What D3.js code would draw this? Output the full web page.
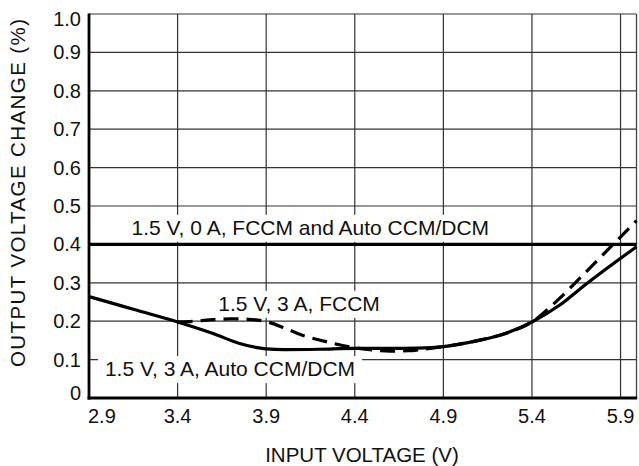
<!DOCTYPE html>
<html>
<head>
<meta charset="utf-8">
<script src="https://cdn.jsdelivr.net/npm/d3@7"></script>
<style>
  html, body { margin: 0; padding: 0; background: #fff; }
  svg { display: block; }
  text { font-family: "Liberation Sans", Arial, Helvetica, sans-serif; fill: #111; }
</style>
</head>
<body>
<svg id="chart" width="639" height="466"></svg>
<script>
// ---- data ----
const xTicks = [2.9, 3.4, 3.9, 4.4, 4.9, 5.4, 5.9];
const yTicks = [0, 0.1, 0.2, 0.3, 0.4, 0.5, 0.6, 0.7, 0.8, 0.9, 1.0];
const yTickLabels = ["0", "0.1", "0.2", "0.3", "0.4", "0.5", "0.6", "0.7", "0.8", "0.9", "1.0"];

const noLoadX = [2.9, 5.99];
const noLoadY = [0.4, 0.4];

const autoX = [2.9, 3.0, 3.15, 3.4, 3.6, 3.75, 3.85, 3.9, 4.0, 4.2, 4.4, 4.6, 4.75, 4.9, 5.1, 5.25, 5.4, 5.557, 5.687, 5.99];
const autoY = [0.264, 0.251, 0.231, 0.198, 0.168, 0.142, 0.131, 0.128, 0.126, 0.127, 0.129, 0.129, 0.130, 0.134, 0.150, 0.168, 0.198, 0.242, 0.290, 0.394];

const fccmX = [3.4, 3.5, 3.6, 3.7, 3.8, 3.9, 4.0, 4.1, 4.2, 4.3, 4.4, 4.5, 4.6, 4.7, 4.8, 4.9, 5.1, 5.25, 5.4, 5.557, 5.687, 5.99];
const fccmY = [0.198, 0.200, 0.204, 0.206, 0.205, 0.199, 0.183, 0.164, 0.151, 0.140, 0.131, 0.125, 0.122, 0.123, 0.128, 0.134, 0.150, 0.168, 0.198, 0.260, 0.320, 0.462];

const labels = [
  { text: "1.5 V, 0 A, FCCM and Auto CCM/DCM", x: 3.14, y: 0.425 },
  { text: "1.5 V, 3 A, FCCM", x: 3.63, y: 0.227 },
  { text: "1.5 V, 3 A, Auto CCM/DCM", x: 2.99, y: 0.057 }
];

// ---- layout ----
const svg = d3.select("#chart");
const L = 89, R = 636.5, T = 14, B = 398;
const x = d3.scaleLinear().domain([2.9, 5.99]).range([L, R]);
const y = d3.scaleLinear().domain([0, 1.0]).range([B, T]);

const grid = svg.append("g");
// horizontal gridlines
grid.selectAll("line.h").data(yTicks.slice(1)).enter().append("line")
  .attr("x1", L).attr("x2", R)
  .attr("y1", d => y(d)).attr("y2", d => y(d))
  .attr("stroke", "#333").attr("stroke-width", 1.2);
// vertical gridlines
grid.selectAll("line.v").data(xTicks.slice(1)).enter().append("line")
  .attr("x1", d => x(d)).attr("x2", d => x(d))
  .attr("y1", T).attr("y2", B)
  .attr("stroke", "#333").attr("stroke-width", 1.2);
// right border
grid.append("line").attr("x1", R).attr("x2", R).attr("y1", T).attr("y2", B)
  .attr("stroke", "#444").attr("stroke-width", 1.3);

// labels with white background
const lab = svg.append("g");
labels.forEach(l => {
  const t = lab.append("text")
    .attr("x", x(l.x)).attr("y", y(l.y))
    .attr("font-size", 21)
    .text(l.text);
  const bb = t.node().getBBox();
  lab.insert("rect", "text")
    .attr("x", bb.x - 7).attr("y", bb.y - 1)
    .attr("width", bb.width + 14).attr("height", bb.height + 4)
    .attr("fill", "#fff");
});
lab.selectAll("text").raise();

// data lines
const line = d3.line().x(d => x(d[0])).y(d => y(d[1])).curve(d3.curveMonotoneX);
svg.append("path").datum(d3.zip(noLoadX, noLoadY)).attr("d", line)
  .attr("fill", "none").attr("stroke", "#000").attr("stroke-width", 3.4);
svg.append("path").datum(d3.zip(fccmX, fccmY)).attr("d", line)
  .attr("fill", "none").attr("stroke", "#000").attr("stroke-width", 3.2)
  .attr("stroke-dasharray", "15,8");
svg.append("path").datum(d3.zip(autoX, autoY)).attr("d", line)
  .attr("fill", "none").attr("stroke", "#000").attr("stroke-width", 3.2);

// axes (thick left & bottom)
svg.append("line").attr("x1", L).attr("x2", L).attr("y1", T - 0.5).attr("y2", B + 1.5)
  .attr("stroke", "#000").attr("stroke-width", 2.8);
svg.append("line").attr("x1", L - 1.4).attr("x2", R + 0.7).attr("y1", B).attr("y2", B)
  .attr("stroke", "#000").attr("stroke-width", 2.8);

// y tick labels
svg.append("g").selectAll("text").data(yTicks).enter().append("text")
  .attr("x", 81)
  .attr("y", (d, i) => y(d) + (i === 0 ? -5 : (i === yTicks.length - 1 ? 4.5 : 0)))
  .attr("dy", "0.35em")
  .attr("text-anchor", "end")
  .attr("font-size", 20)
  .text((d, i) => yTickLabels[i]);

// x tick labels
svg.append("g").selectAll("text").data(xTicks).enter().append("text")
  .attr("x", (d, i) => i === 0 ? L - 1 : x(d))
  .attr("y", 423)
  .attr("text-anchor", (d, i) => i === 0 ? "start" : "middle")
  .attr("font-size", 20)
  .text(d => d3.format(".1f")(d));

// axis titles
svg.append("text").attr("x", 362).attr("y", 462)
  .attr("text-anchor", "middle").attr("font-size", 20.5)
  .text("INPUT VOLTAGE (V)");
svg.append("text")
  .attr("transform", "translate(25,193) rotate(-90)")
  .attr("text-anchor", "middle").attr("font-size", 20.5)
  .attr("textLength", 348).attr("lengthAdjust", "spacing")
  .text("OUTPUT VOLTAGE CHANGE (%)");
</script>
</body>
</html>
